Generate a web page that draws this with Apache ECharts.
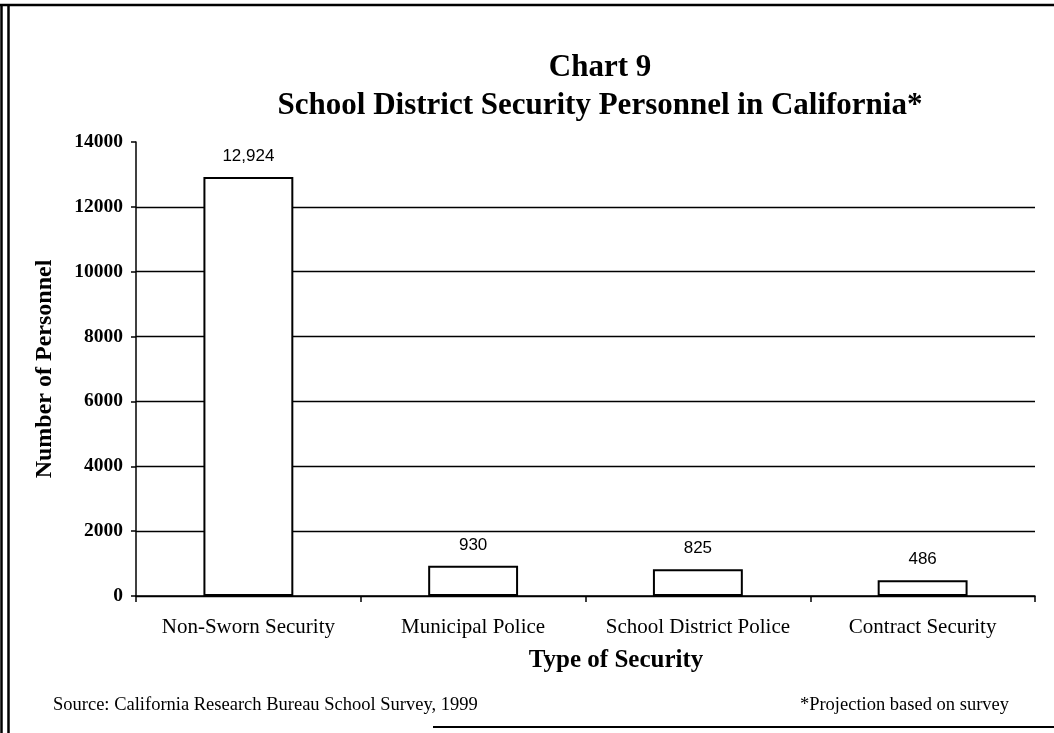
<!DOCTYPE html>
<html>
<head>
<meta charset="utf-8">
<script src="https://cdn.jsdelivr.net/npm/echarts@6/dist/echarts.min.js"></script>
<style>
html,body{margin:0;padding:0;background:#fff;}
#chart{width:1054px;height:733px;}
</style>
</head>
<body>
<div id="chart"></div>
<script>
const categories = ["Non-Sworn Security", "Municipal Police", "School District Police", "Contract Security"];
const personnel = [12924, 930, 825, 486];
const yTicks = [0, 2000, 4000, 6000, 8000, 10000, 12000, 14000];

const serif = '"Liberation Serif", "DejaVu Serif", serif';
const chart = echarts.init(document.getElementById('chart'), null, {renderer: 'canvas'});
chart.setOption({
  backgroundColor: '#fff',
  animation: false,
  title: [{
    text: 'Chart 9\nSchool District Security Personnel in California*',
    left: 595, top: 44, textAlign: 'center',
    textStyle: {fontFamily: serif, fontWeight: 'bold', fontSize: 31, color: '#000', lineHeight: 38}
  }],
  grid: {left: 136, right: 19, top: 142, bottom: 137, containLabel: false},
  xAxis: {
    type: 'category', data: categories,
    name: 'Type of Security', nameLocation: 'middle', nameGap: 52,
    nameTextStyle: {fontFamily: serif, fontWeight: 'bold', fontSize: 25, color: '#000', padding: [0, 0, 0, 61]},
    axisLine: {lineStyle: {color: '#000', width: 1.5}},
    axisTick: {show: true, inside: false, length: 6, interval: 0, lineStyle: {color: '#000', width: 1.5}},
    axisLabel: {fontFamily: serif, fontSize: 21, color: '#000', margin: 21, interval: 0, hideOverlap: false},
    splitLine: {show: false}
  },
  yAxis: {
    type: 'value', min: 0, max: 14000, interval: 2000,
    name: 'Number of Personnel', nameLocation: 'middle', nameGap: 79, nameRotate: 90,
    nameTextStyle: {fontFamily: serif, fontWeight: 'bold', fontSize: 24, color: '#000'},
    axisLine: {show: true, lineStyle: {color: '#000', width: 1.5}},
    axisTick: {show: true, inside: false, length: 5, lineStyle: {color: '#000', width: 1.5}},
    axisLabel: {fontFamily: serif, fontWeight: 'bold', fontSize: 19.5, color: '#000', margin: 13,
      formatter: v => yTicks.includes(v) ? String(v) : ''},
    splitLine: {show: true, lineStyle: {color: ['#000','#000','#000','#000','#000','#000','#000','rgba(0,0,0,0)'], width: 1.3}}
  },
  series: [{
    type: 'bar', data: personnel, barWidth: '40%',
    itemStyle: {color: '#fff', borderColor: '#000', borderWidth: 2},
    label: {show: true, position: 'top', distance: 12, color: '#000',
      fontFamily: '"Liberation Sans", sans-serif', fontSize: 17,
      formatter: p => p.value.toLocaleString('en-US')}
  }],
  graphic: [
    {type: 'line', shape: {x1: 1.5, y1: 5, x2: 1.5, y2: 733}, style: {stroke: '#000', lineWidth: 2.5}},
    {type: 'line', shape: {x1: 8.5, y1: 5, x2: 8.5, y2: 733}, style: {stroke: '#000', lineWidth: 2.5}},
    {type: 'line', shape: {x1: 0, y1: 5, x2: 1054, y2: 5}, style: {stroke: '#000', lineWidth: 2.5}},
    {type: 'line', shape: {x1: 433, y1: 727, x2: 1054, y2: 727}, style: {stroke: '#000', lineWidth: 2}},
    {type: 'text', left: 53, top: 696, style: {text: 'Source: California Research Bureau School Survey, 1999',
      font: '18.5px ' + serif, fill: '#000'}},
    {type: 'text', right: 45, top: 696, style: {text: '*Projection based on survey',
      font: '18.5px ' + serif, fill: '#000'}}
  ]
});
</script>
</body>
</html>
